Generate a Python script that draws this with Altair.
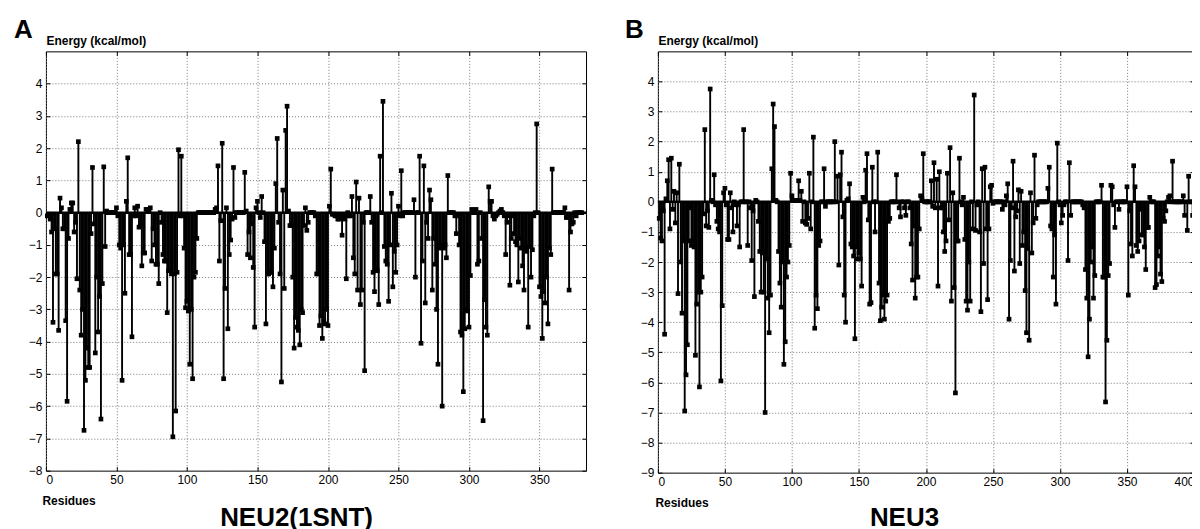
import altair as alt
import pandas as pd

# ---------------- data ----------------
n_residues_a = 380
n_residues_b = 400

# (residue, energy kcal/mol) pairs; residues not listed sit at 0
energy_a = [
    (1, -0.1), (2, -0.05), (3, -0.2), (4, -0.6), (5, -3.4), (6, -0.5), (7, -1.9), (8, -1.9),
    (9, -3.65), (10, 0.45), (11, 0.15), (12, -0.5), (13, -0.5), (14, -3.35), (15, -5.85),
    (16, -0.8), (17, 0.1), (18, 0.3), (19, 0.3), (20, -0.6), (21, -0.3), (22, -2.05), (23, 2.2),
    (24, -2.4), (25, -3.8), (26, -3.0), (27, -6.75), (28, -5.2), (29, -4.2), (30, -4.8),
    (31, -4.8), (32, -0.65), (33, 1.4), (34, -0.35), (35, -4.35), (36, -2.0), (37, -3.7),
    (38, -2.6), (39, -6.4), (40, -2.2), (41, 1.42), (42, -1.05), (43, 0.05),
    (50, 0.15), (51, -0.1), (52, -1.0), (53, -1.1), (54, -5.2), (55, -1.0), (56, -2.5),
    (57, 0.35), (58, 1.7), (59, -1.3), (60, -1.3), (61, -3.85), (62, -0.1), (63, 0.15),
    (64, -0.1), (65, 0.2), (66, -0.45), (67, -0.35), (68, -1.65), (69, -1.25), (70, -1.25),
    (71, 0.1), (72, 0.1), (73, 0.05), (74, 0.15), (75, -1.5), (76, -0.5), (77, -1.0),
    (78, -1.6), (79, -1.6), (80, -2.2), (82, -0.3), (83, -1.3), (84, -1.5), (85, -1.5),
    (86, -3.1), (87, -1.8), (88, -1.8), (89, -1.9), (90, -6.95), (91, -1.9), (92, -6.15),
    (93, -1.85), (94, 1.95), (95, -0.1), (96, 1.75), (97, -0.1), (98, -1.1), (99, -2.95),
    (100, -2.75), (101, -3.05), (102, -4.7), (103, -3.0), (104, -5.15), (105, -2.0),
    (106, -1.85), (107, -0.8),
    (120, 0.1), (121, 0.15), (122, 1.45), (123, -1.5), (124, -0.25), (125, 2.15), (126, -5.15),
    (127, -2.35), (128, 0.15), (129, -3.6), (130, -1.3), (131, -0.85), (132, -0.2), (133, 1.4),
    (134, -0.15), (141, 1.25), (142, 0.05), (143, -1.3), (144, -0.6), (145, -1.4), (146, -0.35),
    (147, -1.7), (148, -3.55), (149, 0.15), (150, 0.35), (152, -0.15), (153, 0.5), (155, -0.9),
    (156, -3.45), (157, -1.9), (158, -1.9), (159, -1.85), (160, -1.85), (161, -2.3),
    (162, -1.1), (163, 0.9), (164, 2.3), (165, -0.3), (166, -1.9), (167, -5.25), (168, 0.7),
    (169, -2.35), (170, 2.55), (171, 3.3), (172, 0.05), (173, -0.4), (174, -0.4), (175, -2.0),
    (176, -4.2), (177, -3.25), (178, -3.55), (179, -3.65), (180, -4.1), (181, -3.0),
    (182, -3.1), (183, -0.4), (184, 0.15), (185, -0.55), (186, -0.3), (191, -0.1),
    (192, -1.9), (193, -1.9), (194, -3.5), (195, -3.2), (196, -3.9), (197, -3.35),
    (198, -3.45), (199, -3.0), (200, -3.5), (201, 0.2), (202, 1.35), (203, -0.05),
    (204, -0.05), (205, -0.1), (206, -0.1), (207, -0.2), (208, -0.2), (209, -0.15),
    (210, -0.7), (211, -0.1), (212, -0.2), (213, -2.05), (215, -0.1), (216, -0.1), (217, 0.5),
    (218, -1.4), (219, -1.9), (220, 0.95), (221, -2.4), (222, 0.45), (223, -2.85), (224, -2.4),
    (225, -0.3), (226, -4.9), (230, 0.5), (231, -0.3), (232, -1.85), (233, -2.45), (234, -1.75),
    (235, -1.8), (236, -2.85), (237, 1.75), (239, 3.45), (240, -1.05), (241, -1.5), (242, -1.6),
    (243, -2.75), (244, -1.0), (245, 0.6), (246, -2.3), (247, -1.2), (248, -1.85), (249, -1.0),
    (250, 0.2), (251, -0.1), (252, 1.3), (253, -0.1), (261, 0.4), (262, -2.0), (265, 1.75),
    (266, -4.05), (267, -1.5), (268, 1.45), (269, -2.8), (270, -0.3), (271, -0.8), (272, 0.7),
    (273, 0.4), (274, -2.4), (275, -0.8), (276, -1.6), (277, -3.0), (278, -4.7), (279, -1.1),
    (280, -1.0), (281, -6.0), (282, -1.1), (283, -1.0), (284, -1.4), (285, 1.15),
    (290, -0.1), (291, -0.65), (292, -0.1), (293, -1.0), (294, -3.7), (295, -3.8), (296, -5.55),
    (297, -3.6), (298, -3.0), (299, -3.05), (300, -3.55), (301, -1.95), (302, 0.1), (305, 0.1),
    (306, -1.6), (307, -1.5), (309, -0.8), (310, -6.45), (311, -2.7), (312, -3.55), (313, -3.8),
    (314, 0.8), (315, 0.35), (316, 0.35), (317, -0.1), (318, -0.2), (319, -0.1), (320, -0.05),
    (322, 0.05), (323, 0.1), (325, -0.1), (326, -1.3), (327, -0.3), (328, -0.1), (329, -2.25),
    (330, -0.8), (331, -0.1), (332, -0.65), (333, -0.9), (334, -1.0), (335, -2.15), (336, -0.8),
    (337, -1.1), (338, -1.65), (339, -2.4), (340, -1.1), (341, -1.2), (342, -3.55), (343, -1.05),
    (344, -2.0), (345, -1.15), (346, -0.1), (348, 2.75), (350, -2.3), (351, -2.6), (352, -3.9),
    (353, -2.45), (354, -2.8), (355, -2.0), (356, -3.45), (357, -1.1), (358, -1.3), (359, 1.35),
    (368, 0.15), (369, -0.15), (370, -0.15), (371, -2.4), (372, -0.6), (373, -0.35),
    (374, -0.3), (376, -0.1),
]

energy_b = [
    (1, -0.55), (2, -1.2), (3, -1.3), (4, -0.3), (5, -4.4), (6, 0.1), (7, 0.7), (8, 1.4),
    (9, -0.9), (10, 1.45), (11, -0.25), (12, 0.35), (13, -0.7), (14, 0.3), (15, -3.05),
    (16, 1.25), (17, -2.0), (18, -3.7), (19, -1.3), (20, -6.95), (21, -5.75), (22, -4.75),
    (23, -1.3), (24, -0.2), (25, -1.45), (26, -1.3), (27, -1.5), (28, -5.1), (29, -3.4),
    (30, -3.0), (31, -6.15), (32, -3.0), (33, -2.5), (34, -0.4), (35, 2.4), (36, -0.8),
    (37, -0.3), (38, -0.85), (39, 3.75), (40, 0.05), (42, 0.9), (43, -0.1), (44, -0.65),
    (45, -0.9), (46, -1.0), (47, -5.95), (48, -3.45), (49, 0.3), (50, 0.45), (51, -0.1),
    (52, -1.25), (53, -1.25), (54, 0.3), (55, -0.2), (56, -1.0), (58, -0.1), (59, -0.8),
    (60, -0.1), (61, -1.5), (64, 2.4), (67, -1.45), (69, -0.2), (70, -1.95), (71, -0.3),
    (72, -3.15), (73, 0.05), (75, -0.65), (76, -1.65), (77, -3.0), (78, -1.7), (79, -3.0),
    (80, -7.0), (81, -1.9), (82, -3.2), (83, -4.35), (84, -3.1), (85, 1.1), (86, 3.25),
    (87, 2.5), (88, 0.05), (90, -1.65), (91, -2.7), (92, -3.5), (93, -2.0), (94, -5.4),
    (95, -4.65), (96, -2.5), (97, -2.0), (98, -1.45), (99, 0.95), (100, 0.2), (101, 0.05),
    (102, 0.05), (103, 0.05), (104, 0.05), (105, 0.7), (106, 0.05), (107, 0.35), (108, -0.65),
    (110, -0.7), (111, -0.75), (112, -0.55), (113, 0.95), (114, -0.9), (116, 2.15), (117, -4.2),
    (118, -3.1), (119, -3.55), (120, -1.45), (121, -1.3), (124, 1.1), (125, -0.15), (132, 2.0),
    (134, 0.85), (135, -2.1), (136, 0.9), (137, 1.65), (138, -0.5), (139, -3.1), (140, -4.0),
    (141, 0.05), (142, 0.1), (143, 0.6), (144, -1.4), (145, -1.5), (146, -1.8), (147, -4.55),
    (148, -1.5), (149, -1.9), (150, -1.7), (151, -1.9), (152, -2.8), (153, 0.15), (155, 1.05),
    (156, 1.6), (157, -0.6), (158, -3.4), (159, -3.35), (160, 1.15), (162, -1.0), (164, 1.65),
    (165, -2.7), (166, -3.95), (167, -3.5), (168, -3.1), (169, -3.9), (170, -3.3), (171, -3.1),
    (172, -0.65), (173, -0.55), (178, 0.9), (180, -0.2), (181, -0.5), (184, -0.2), (185, -0.45),
    (188, -0.2), (189, -1.4), (190, -2.6), (191, -0.8), (192, -3.2), (193, -2.5), (194, -2.5),
    (195, -0.9), (196, 0.2), (197, 0.1), (198, 1.6), (204, 0.7), (205, -0.15), (206, 1.3),
    (207, -0.2), (208, 0.75), (209, -2.8), (210, 1.0), (211, -0.2), (212, -0.2), (213, -1.0),
    (214, -1.65), (215, -1.3), (216, 0.95), (217, -0.6), (218, 1.8), (219, -3.3), (220, 0.3),
    (221, -2.85), (222, -6.35), (223, -1.3), (224, -1.3), (225, 1.45), (227, -0.1), (228, 0.15),
    (229, -1.25), (230, -3.3), (231, -3.6), (232, -2.0), (233, -3.3), (235, -0.9), (236, 3.55),
    (237, -0.95), (238, -0.1), (240, -1.0), (241, -3.65), (242, 1.1), (243, -2.05), (244, 1.15),
    (245, -0.9), (246, -3.25), (247, -0.9), (248, 0.5), (249, 0.55), (250, -0.05),
    (257, -0.25), (259, -0.1), (260, 0.2), (261, 0.6), (262, -3.9), (263, -1.95), (264, -0.2),
    (265, 1.35), (266, -2.3), (267, -0.5), (268, -0.3), (269, 0.4), (270, -2.05), (271, 0.35),
    (272, -1.45), (273, -1.0), (274, -2.95), (275, -4.35), (276, -1.55), (277, -4.6), (278, 0.3),
    (279, -1.7), (280, -0.7), (281, 1.55), (282, -0.55), (283, -0.1), (291, 0.45), (292, 1.15),
    (293, -0.8), (294, -0.9), (295, -2.5), (296, -1.1), (297, -3.4), (298, 1.95), (300, -0.1),
    (301, -0.7), (302, -0.45), (303, -0.1), (306, -1.95), (307, 1.3), (308, -0.45),
    (317, -0.1), (318, -0.2), (319, -2.25), (320, -3.2), (321, -5.15), (322, -3.9), (323, -2.0),
    (324, -1.5), (325, -3.2), (326, -2.45), (331, 0.55), (332, -2.5), (333, -2.5), (334, -6.65),
    (335, -4.6), (336, -2.45), (337, -2.05), (338, 0.55), (339, 0.5), (340, -0.1), (341, -0.85),
    (344, -0.25), (350, 0.5), (351, -3.1), (352, -0.3), (353, -1.4), (354, -1.8), (355, 1.2),
    (356, 0.5), (357, -1.45), (358, -1.65), (359, -1.3), (360, -0.25), (361, -1.1), (362, -1.1),
    (363, -1.5), (364, -2.25), (365, -0.85), (366, -0.85), (367, 0.15), (371, -2.85),
    (372, -2.75), (373, -1.8), (374, -1.5), (375, -2.4), (376, -2.65), (377, -0.55),
    (378, -0.65), (379, -0.3), (381, 0.15), (382, 0.2), (384, 1.35), (392, 0.2), (393, -0.45),
    (395, -0.95), (396, 0.85), (399, -0.45),
]

x_ticks_a = [0, 50, 100, 150, 200, 250, 300, 350]
x_ticks_b = [0, 50, 100, 150, 200, 250, 300, 350, 400]
y_ticks_a = [-8, -7, -6, -5, -4, -3, -2, -1, 0, 1, 2, 3, 4]
y_ticks_b = [-9, -8, -7, -6, -5, -4, -3, -2, -1, 0, 1, 2, 3, 4]
panel_letters = ["A", "B"]
panel_names = ["NEU2(1SNT)", "NEU3"]
y_title = "Energy (kcal/mol)"
x_title = "Residues"

FONT = "Liberation Sans"


def build_df(pairs, n):
    d = dict(pairs)
    res = list(range(1, n + 1))
    return pd.DataFrame({"residue": res,
                         "energy": [d.get(i, 0.0) for i in res],
                         "zero": [0.0] * n})


def inner_ticks(orient, values):
    # MATLAB-style tick marks pointing into the box
    return alt.Axis(orient=orient, values=values, tickCount=40, offset=-4,
                    tickSize=4, ticks=True, tickColor="black", tickWidth=1,
                    labels=False, grid=False, domain=False, title=None)


def panel(pairs, n, xmax, ymin, ymax, xt, yt, w, h, letter, name,
          letter_dx, name_cx, xtitle_dx):
    df = build_df(pairs, n)
    xs = alt.Scale(domain=[0, xmax], nice=False, zero=False)
    ys = alt.Scale(domain=[ymin, ymax], nice=False, zero=False)
    common = dict(format="d", tickCount=40, grid=True, gridDash=[1, 2],
                  gridColor="#777777", gridWidth=1, ticks=False, domain=False,
                  labelPadding=4, labelOverlap=False, labelFont=FONT,
                  labelFontSize=12, labelColor="black", titleFont=FONT,
                  titleFontSize=12, titleFontWeight="bold", titleColor="black",
                  titleAlign="left")
    xaxis = alt.Axis(values=xt, title=x_title, titleBaseline="middle",
                     titleX=xtitle_dx, titleY=30, **common)
    yaxis = alt.Axis(values=yt, title=y_title, titleAngle=0,
                     titleBaseline="alphabetic", titleX=0, titleY=-7, **common)
    stems = alt.Chart(df).mark_rule(color="black", strokeWidth=1.9).encode(
        x=alt.X("residue:Q", scale=xs, axis=xaxis),
        y=alt.Y("energy:Q", scale=ys, axis=yaxis),
        y2="zero:Q",
    )
    heads = alt.Chart(df).mark_point(shape="square", filled=True, size=22,
                                     color="black", opacity=1).encode(
        x=alt.X("residue:Q", axis=None), y=alt.Y("energy:Q", axis=None))
    base = alt.Chart(pd.DataFrame({"energy": [0.0]})).mark_rule(
        color="black", strokeWidth=2.5).encode(y=alt.Y("energy:Q", axis=None))
    corner = pd.DataFrame({"residue": [0], "energy": [0.0]})
    ticks_bl = alt.Chart(corner).mark_point(opacity=0).encode(
        x=alt.X("residue:Q", axis=inner_ticks("bottom", xt)),
        y=alt.Y("energy:Q", axis=inner_ticks("left", yt)))
    ticks_tr = alt.Chart(corner).mark_point(opacity=0).encode(
        x=alt.X("residue:Q", axis=inner_ticks("top", xt)),
        y=alt.Y("energy:Q", axis=inner_ticks("right", yt)))
    let = alt.Chart(pd.DataFrame({"t": [letter]})).mark_text(
        align="left", baseline="alphabetic", font=FONT, fontSize=26,
        fontWeight="bold", color="black").encode(
        text="t:N", x=alt.value(letter_dx), y=alt.value(-13))
    nm = alt.Chart(pd.DataFrame({"t": [name]})).mark_text(
        align="center", baseline="alphabetic", font=FONT, fontSize=26,
        fontWeight="bold", color="black").encode(
        text="t:N", x=alt.value(name_cx), y=alt.value(475))
    return alt.layer(stems, base, heads, ticks_bl, ticks_tr, let, nm).resolve_axis(
        x="independent", y="independent").properties(width=w, height=h)


pa = panel(energy_a, n_residues_a, 383, -8, 5, x_ticks_a, y_ticks_a, 541, 420,
           panel_letters[0], panel_names[0], -32, 251, -4)
pb = panel(energy_b, n_residues_b, 400, -9, 5, x_ticks_b, y_ticks_b, 537, 422,
           panel_letters[1], panel_names[1], -33, 247, -3)

chart = alt.hconcat(pa, pb, spacing=72, bounds="flush").properties(
    padding={"left": 5, "top": 8, "right": -5, "bottom": 0},
    background="white",
).configure_view(stroke="black", strokeWidth=1)

chart.save("out.html", embed_options={"renderer": "svg", "actions": False})
